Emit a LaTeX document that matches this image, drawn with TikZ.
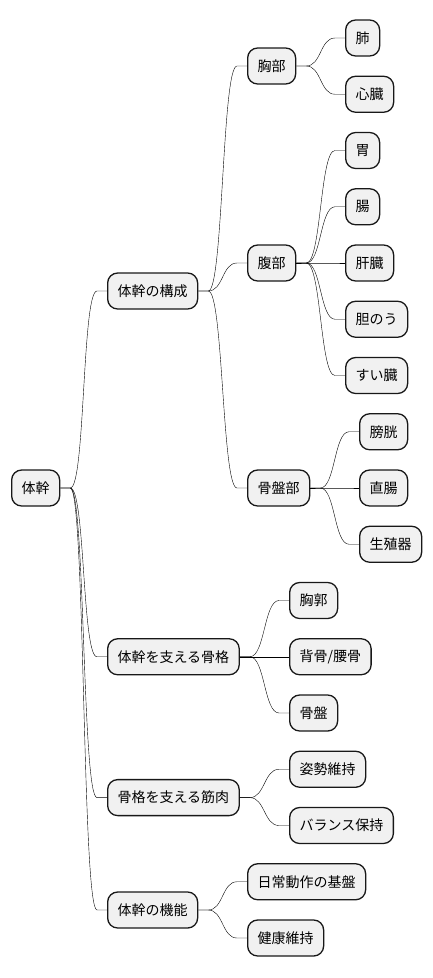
\documentclass[tikz,border=0pt]{standalone}
\usepackage{fontspec}
\setmainfont{Noto Sans CJK JP}
\definecolor{boxfill}{RGB}{241,241,241}
\definecolor{boxline}{RGB}{24,24,24}
\begin{document}
\begin{tikzpicture}[x=1pt,y=-1pt,
  topic/.style={draw=boxline, fill=boxfill, line width=1.3pt, rounded corners=10pt,
    anchor=west, minimum height=36pt, inner xsep=10pt, inner ysep=0pt,
    font=\fontsize{14}{16}\selectfont},
  branch/.style={draw=boxline, line width=0.9pt,
    to path={-- ++(10,0) .. controls +(15,0) and +(-15,0) .. ([xshift=-10pt]\tikztotarget) -- (\tikztotarget)}}]
\useasboundingbox (0,0) rectangle (432,978);
% Root
\node[topic] (trunk) at (11,488) {体幹};
% First level
\node[topic] (struct) at (107,291) {体幹の構成};
\node[topic] (skeleton) at (107,656.75) {体幹を支える骨格};
\node[topic] (muscle) at (107,797.6) {骨格を支える筋肉};
\node[topic] (function) at (107,910) {体幹の機能};
% Regions of the trunk
\node[topic] (chest) at (247,66) {胸部};
\node[topic] (abdomen) at (247,263) {腹部};
\node[topic] (pelvis) at (247,488) {骨盤部};
% Organs
\node[topic] (lung) at (345,38) {肺};
\node[topic] (heart) at (345,94.25) {心臓};
\node[topic] (stomach) at (345,150.5) {胃};
\node[topic] (bowel) at (345,206.75) {腸};
\node[topic] (liver) at (345,263) {肝臓};
\node[topic] (gall) at (345,319.25) {胆のう};
\node[topic] (pancreas) at (345,375.5) {すい臓};
\node[topic] (bladder) at (359,431.75) {膀胱};
\node[topic] (rectum) at (359,488) {直腸};
\node[topic] (genital) at (359,544.25) {生殖器};
% Bones
\node[topic] (ribcage) at (289,600.5) {胸郭};
\node[topic] (spine) at (289,656.75) {背骨/腰骨};
\node[topic] (hip) at (289,713) {骨盤};
% Muscles and function
\node[topic] (posture) at (289,769.25) {姿勢維持};
\node[topic] (balance) at (289,825.5) {バランス保持};
\node[topic] (daily) at (247,881.75) {日常動作の基盤};
\node[topic] (health) at (247,938) {健康維持};
% Draw branches
\foreach \from/\to in {trunk/struct, trunk/skeleton, trunk/muscle, trunk/function,
    struct/chest, struct/abdomen, struct/pelvis,
    chest/lung, chest/heart,
    abdomen/stomach, abdomen/bowel, abdomen/liver, abdomen/gall, abdomen/pancreas,
    pelvis/bladder, pelvis/rectum, pelvis/genital,
    skeleton/ribcage, skeleton/spine, skeleton/hip,
    muscle/posture, muscle/balance,
    function/daily, function/health}
  \draw (\from.east) to[branch] (\to.west);
\end{tikzpicture}
\end{document}
